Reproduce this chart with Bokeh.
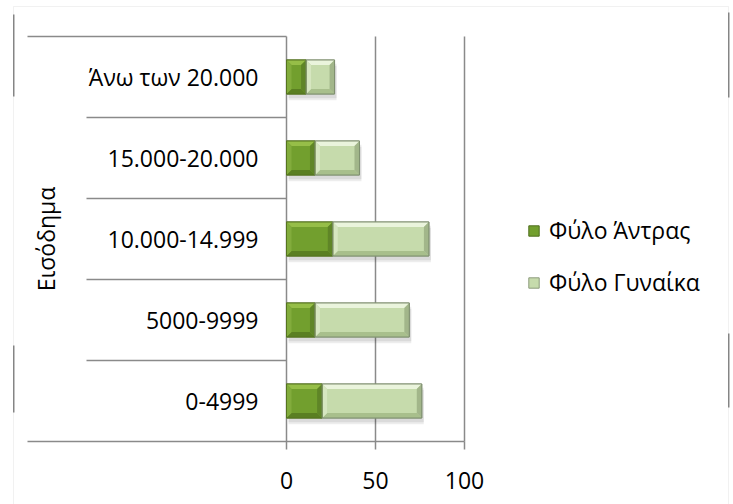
from math import pi

from bokeh.core.properties import value
from bokeh.embed import file_html
from bokeh.models import (BoxAnnotation, ColumnDataSource, FixedTicker, Legend,
                          LegendItem, Range1d)
from bokeh.plotting import figure
from bokeh.resources import INLINE

# ---- data -------------------------------------------------------------
categories = ["0-4999", "5000-9999", "10.000-14.999", "15.000-20.000", "Άνω των 20.000"]
men = [20, 16, 26, 16, 11]
women = [56, 53, 54, 25, 16]
series_names = ["Φύλο Άντρας", "Φύλο Γυναίκα"]
x_ticks = [0, 50, 100]
group_title = "Εισόδημα"

# ---- layout (pixels) ---------------------------------------------------
W, H = 733, 504
AXIS_LEFT_PX, ZERO_PX, HUNDRED_PX = 27, 286, 464
PLOT_TOP_PX, PLOT_BOTTOM_PX = 36, 441
SEP_LEFT_PX = 86
FONT = "Open Sans"
FONT_SIZE = "23px"
GRID = "#8a8a8a"

n = len(categories)
X_MAX = 100.0
px_per_unit = (HUNDRED_PX - ZERO_PX) / X_MAX
py_per_unit = (PLOT_BOTTOM_PX - PLOT_TOP_PX) / n
x_lo = -ZERO_PX / px_per_unit
x_hi = (W - ZERO_PX) / px_per_unit
y_lo = -(H - PLOT_BOTTOM_PX) / py_per_unit
y_hi = n + PLOT_TOP_PX / py_per_unit
axis_start = -(ZERO_PX - AXIS_LEFT_PX) / px_per_unit
sep_left = -(ZERO_PX - SEP_LEFT_PX) / px_per_unit

p = figure(width=W, height=H, output_backend="svg", toolbar_location=None,
           x_range=Range1d(x_lo, x_hi), y_range=Range1d(y_lo, y_hi),
           y_axis_location=None,
           min_border=0, min_border_left=0, min_border_right=0,
           min_border_top=0, min_border_bottom=0)
p.outline_line_color = None
p.background_fill_color = "white"
p.border_fill_color = "white"
p.grid.visible = False

# value axis sitting on the bottom edge of the plot area
xa = p.xaxis[0]
xa.fixed_location = 0
xa.bounds = (axis_start, X_MAX)
xa.ticker = FixedTicker(ticks=x_ticks)
xa.axis_line_color = GRID
xa.axis_line_width = 1.5
xa.major_tick_line_color = GRID
xa.major_tick_line_width = 1.5
xa.major_tick_out = 8
xa.major_tick_in = 0
xa.minor_tick_line_color = None
xa.major_label_text_font = FONT
xa.major_label_text_font_size = FONT_SIZE
xa.major_label_text_color = "black"
xa.major_label_standoff = 22

# chart area border
p.add_layout(BoxAnnotation(left=13, right=728, top=6, bottom=520,
                           left_units="canvas", right_units="canvas",
                           top_units="canvas", bottom_units="canvas",
                           fill_color=None, line_color="#d2d2d2", line_width=1))
for x0, y0, y1 in [(12.5, 14, 96), (12.5, 345, 412), (727.5, 12, 97), (727.5, 333, 407)]:
    p.add_layout(BoxAnnotation(left=x0, right=x0 + 1.5, top=y0, bottom=y1,
                               left_units="canvas", right_units="canvas",
                               top_units="canvas", bottom_units="canvas",
                               fill_color="#6a6a6a", fill_alpha=0.8, line_color=None))

# vertical grid lines over the plot area
p.segment(x0=x_ticks, x1=x_ticks, y0=[0] * len(x_ticks), y1=[n] * len(x_ticks),
          line_color=GRID, line_width=1.5)

# category axis frame: top edge and separators between groups
p.segment(x0=[axis_start], x1=[0], y0=[n], y1=[n], line_color=GRID, line_width=1.5)
p.segment(x0=[sep_left] * (n - 1), x1=[0] * (n - 1),
          y0=list(range(1, n)), y1=list(range(1, n)),
          line_color=GRID, line_width=1.5)

# ---- bars --------------------------------------------------------------
centers = [i + 0.5 for i in range(n)]
bar_h = 0.42
totals = [m + w for m, w in zip(men, women)]
src = ColumnDataSource(dict(y=centers, men=men, women=women, total=totals,
                            zero=[0] * n))

# soft drop shadow
sh_dy = 5 / py_per_unit
sh_dx = 2 / px_per_unit
shadow = ColumnDataSource(dict(y=[c - sh_dy for c in centers],
                               right=[t + sh_dx for t in totals],
                               left=[sh_dx] * n))
p.hbar(y="y", left="left", right="right", height=bar_h + 0.03, source=shadow,
       fill_color="black", fill_alpha=0.07, line_color=None)
p.hbar(y="y", left="left", right="right", height=bar_h - 0.02, source=shadow,
       fill_color="black", fill_alpha=0.08, line_color=None)

r_men = p.hbar(y="y", left="zero", right="men", height=bar_h, source=src,
               fill_color="#729f2e", line_color="#4f6e1d", line_width=1)
r_women = p.hbar(y="y", left="men", right="total", height=bar_h, source=src,
                 fill_color="#c6dbac", line_color="#8c9c7c", line_width=1)

# bevel facets
bx = 5 / px_per_unit
by = 5 / py_per_unit
hh = bar_h / 2


def bevel(lefts, rights, cols):
    xs, ys, fills = [], [], []
    for l, r, c in zip(lefts, rights, centers):
        t, b = c + hh, c - hh
        facets = [
            ([l, r, r - bx, l + bx], [t, t, t - by, t - by], cols[0]),
            ([l, r, r - bx, l + bx], [b, b, b + by, b + by], cols[1]),
            ([l, l, l + bx, l + bx], [b, t, t - by, b + by], cols[2]),
            ([r, r, r - bx, r - bx], [b, t, t - by, b + by], cols[3]),
        ]
        for fx, fy, fc in facets:
            xs.append(fx)
            ys.append(fy)
            fills.append(fc)
    p.patches(xs=xs, ys=ys, fill_color=fills, line_color=None)


bevel([0] * n, men, ["#96be48", "#5a7f22", "#82ac3c", "#5f8527"])
bevel(men, totals, ["#eaf4dc", "#a8bf8c", "#d6e6c0", "#a2b68a"])

# outlines on top of the facets
p.hbar(y="y", left="zero", right="men", height=bar_h, source=src,
       fill_color=None, line_color="#55741f", line_width=1)
p.hbar(y="y", left="men", right="total", height=bar_h, source=src,
       fill_color=None, line_color="#7f8f70", line_width=1)

# ---- texts -------------------------------------------------------------
p.text(x=[0] * n, y=centers, text=categories, x_offset=-28,
       text_align="right", text_baseline="middle",
       text_font=value(FONT), text_font_size=FONT_SIZE, text_color="black")
p.text(x=[axis_start], y=[n / 2], text=[group_title], x_offset=45 - AXIS_LEFT_PX,
       angle=pi / 2, text_align="center", text_baseline="middle",
       text_font=value(FONT), text_font_size=FONT_SIZE, text_color="black")

legend = Legend(items=[LegendItem(label=series_names[0], renderers=[r_men]),
                       LegendItem(label=series_names[1], renderers=[r_women])],
                location=(527, H - 298),
                orientation="vertical", padding=0, margin=0, spacing=20,
                glyph_width=13, glyph_height=13, label_standoff=9,
                label_height=28,
                label_text_font=FONT, label_text_font_size=FONT_SIZE,
                label_text_color="black", label_text_baseline="middle",
                border_line_color=None, background_fill_alpha=0)
p.add_layout(legend)

open("out.html", "w").write(file_html(p, INLINE))
